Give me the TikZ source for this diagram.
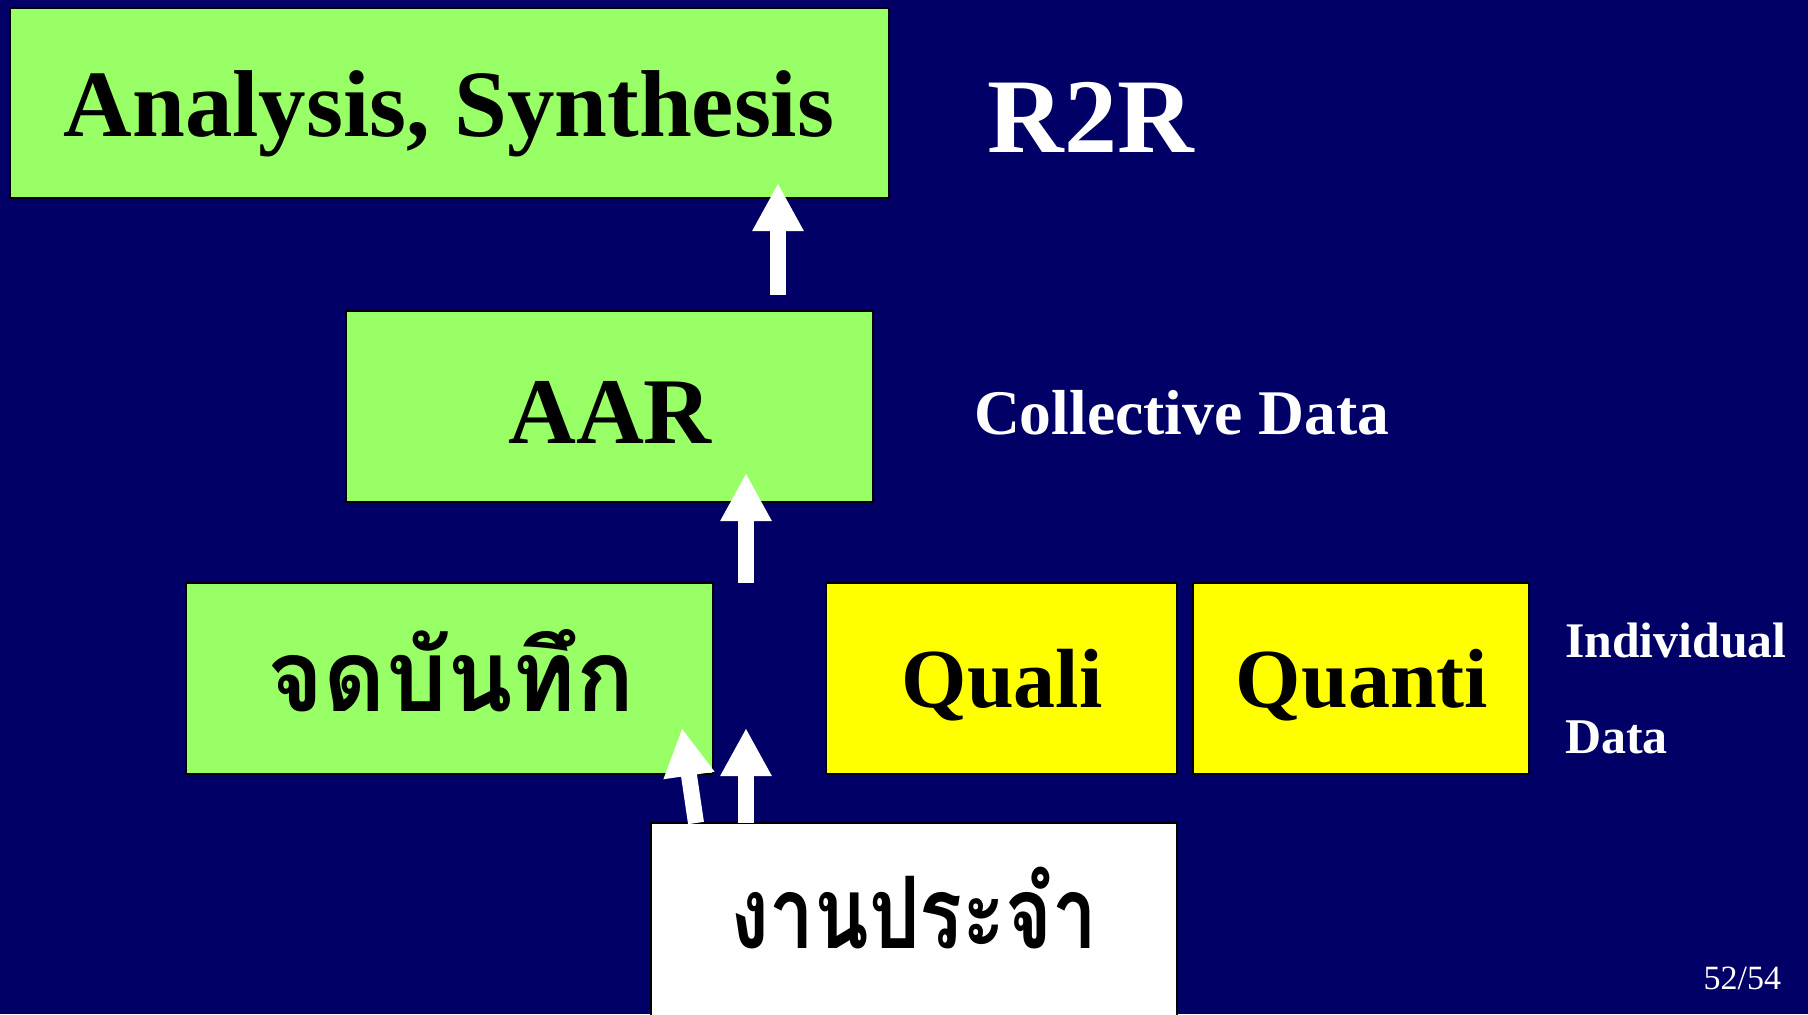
\documentclass[tikz,border=0pt]{standalone}
\usepackage{fontspec}
\usepackage{graphicx}
\setmainfont{Liberation Serif}
\newfontfamily\thaifont[Script=Thai]{Loma}
\usetikzlibrary{arrows.meta}
\definecolor{bgnavy}{RGB}{0,0,102}
\definecolor{boxgreen}{RGB}{153,255,102}
\definecolor{boxyellow}{RGB}{255,255,0}
\tikzset{
  box/.style={draw=black, line width=1.2pt, inner sep=0pt, outer sep=0pt},
  greenbox/.style={box, fill=boxgreen},
  yellowbox/.style={box, fill=boxyellow},
  whitebox/.style={box, fill=white},
  blockarrow/.style={draw=white, line width=8pt, -{Triangle[width=24pt,length=24pt]}},
  lbl/.style={inner sep=0pt, outer sep=0pt},
}
\begin{document}
\begin{tikzpicture}[x=0.5pt,y=-0.5pt]
\useasboundingbox (0,0) rectangle (1808,1014);
\fill[bgnavy] (0,0) rectangle (1808,1014);
% boxes
\draw[greenbox] (10,8) rectangle (889,198);
\draw[greenbox] (346,311) rectangle (873,502);
\draw[greenbox] (186,583) rectangle (713,774);
\draw[yellowbox] (826,583) rectangle (1177,774);
\draw[yellowbox] (1193,583) rectangle (1529,774);
\draw[whitebox] (651,823) rectangle (1177,1030);
\node[lbl, anchor=base] (analysis) at (449,136) {\fontsize{47.5pt}{50pt}\selectfont\bfseries Analysis, Synthesis};
\node[lbl, anchor=base] (aar) at (610,443) {\fontsize{47pt}{50pt}\selectfont\bfseries AAR};
\node[lbl, anchor=base] (jod) at (451,711) {\scalebox{0.96}[1]{\fontsize{50pt}{55pt}\selectfont\thaifont\bfseries จดบันทึก}};
\node[lbl, anchor=base] (quali) at (1002,707) {\fontsize{42pt}{45pt}\selectfont\bfseries Quali};
\node[lbl, anchor=base] (quanti) at (1362,707) {\fontsize{42pt}{45pt}\selectfont\bfseries Quanti};
\node[lbl, anchor=base] (ngan) at (914,948) {\scalebox{0.8}[1]{\fontsize{50pt}{55pt}\selectfont\thaifont\bfseries งานประจำ}};
% side labels
\node[lbl, anchor=base, text=white] (r2r) at (1091,152) {\fontsize{53pt}{56pt}\selectfont\bfseries R2R};
\node[lbl, anchor=base west, text=white] (coll) at (974,434) {\fontsize{31.8pt}{35pt}\selectfont\bfseries Collective Data};
\node[lbl, anchor=base west, text=white] (indiv) at (1565,657) {\fontsize{24.9pt}{28pt}\selectfont\bfseries Individual};
\node[lbl, anchor=base west, text=white] (data) at (1565,753) {\fontsize{25pt}{28pt}\selectfont\bfseries Data};
\node[lbl, anchor=base east, text=white] (page) at (1781,989) {\fontsize{17pt}{19pt}\selectfont 52/54};
% arrows
\coordinate (a1s) at (778,295); \coordinate (a1e) at (778,183);
\coordinate (a2s) at (746,583); \coordinate (a2e) at (746,473);
\coordinate (a3s) at (746,823); \coordinate (a3e) at (746,728);
\coordinate (a4s) at (696,823); \coordinate (a4e) at (682,728);
\draw[blockarrow] (a1s) -- (a1e);
\draw[blockarrow] (a2s) -- (a2e);
\draw[blockarrow] (a3s) -- (a3e);
\draw[blockarrow] (a4s) -- (a4e);
\end{tikzpicture}
\end{document}
